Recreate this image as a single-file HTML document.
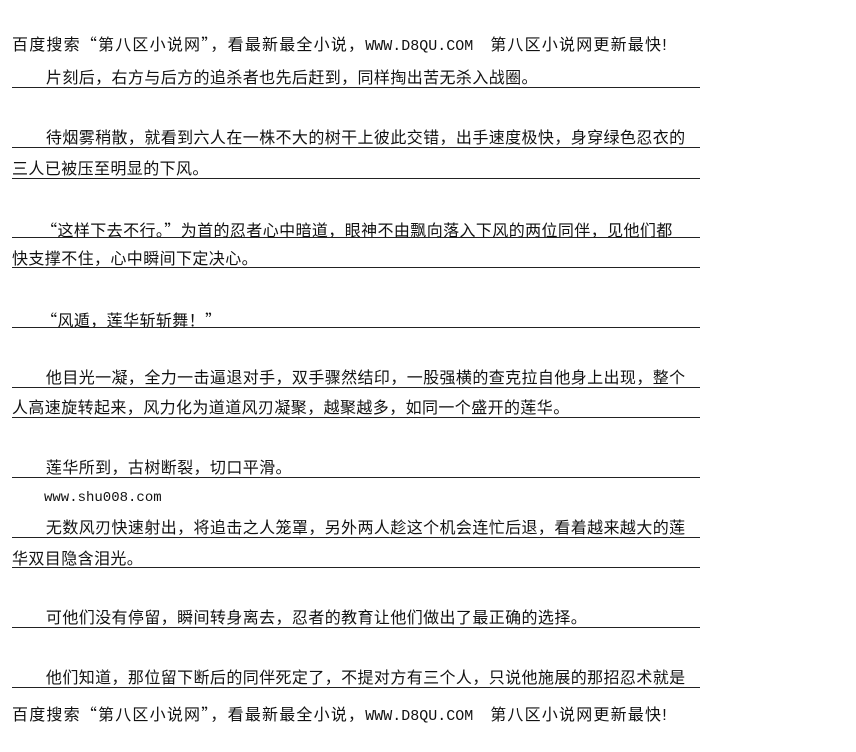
<!DOCTYPE html>
<html><head><meta charset="utf-8"><style>
body{margin:0;width:856px;height:752px;background:#fff;position:relative;overflow:hidden;font-family:"Liberation Sans","Noto Sans CJK SC",sans-serif;color:#111}
.t{position:absolute;left:12px;font-size:16px;line-height:18px;white-space:nowrap;letter-spacing:0.4px}
.h{letter-spacing:1.2px}
.l{position:absolute;left:12px;width:688px;height:1px;background:#222}
.m{font-family:"Liberation Mono",monospace;font-size:14px;letter-spacing:0}
.h .m{font-size:15px}
.q{font-family:"Noto Sans CJK SC",sans-serif}
</style></head><body>
<div class="t h" style="top:34px">百度搜索<span class="q">“</span>第八区小说网<span class="q">”</span>，看最新最全小说，<span class="m">WWW.D8QU.COM</span>&nbsp;&nbsp;&nbsp;第八区小说网更新最快!</div>
<div class="t" style="top:70px">&nbsp;&nbsp;&nbsp;&nbsp;&nbsp;&nbsp;&nbsp;片刻后，右方与后方的追杀者也先后赶到，同样掏出苦无杀入战圈。</div><div class="l" style="top:87px"></div>
<div class="t" style="top:130px">&nbsp;&nbsp;&nbsp;&nbsp;&nbsp;&nbsp;&nbsp;待烟雾稍散，就看到六人在一株不大的树干上彼此交错，出手速度极快，身穿绿色忍衣的</div><div class="l" style="top:147px"></div>
<div class="t" style="top:161px">三人已被压至明显的下风。</div><div class="l" style="top:178px"></div>
<div class="t" style="top:220px">&nbsp;&nbsp;&nbsp;&nbsp;&nbsp;&nbsp;<span class="q">“</span>这样下去不行。<span class="q">”</span>为首的忍者心中暗道，眼神不由飘向落入下风的两位同伴，见他们都</div><div class="l" style="top:237px"></div>
<div class="t" style="top:251px">快支撑不住，心中瞬间下定决心。</div><div class="l" style="top:267px"></div>
<div class="t" style="top:310px">&nbsp;&nbsp;&nbsp;&nbsp;&nbsp;&nbsp;<span class="q">“</span>风遁，莲华斩斩舞！<span class="q">”</span></div><div class="l" style="top:327px"></div>
<div class="t" style="top:370px">&nbsp;&nbsp;&nbsp;&nbsp;&nbsp;&nbsp;&nbsp;他目光一凝，全力一击逼退对手，双手骤然结印，一股强横的查克拉自他身上出现，整个</div><div class="l" style="top:387px"></div>
<div class="t" style="top:400px">人高速旋转起来，风力化为道道风刃凝聚，越聚越多，如同一个盛开的莲华。</div><div class="l" style="top:417px"></div>
<div class="t" style="top:460px">&nbsp;&nbsp;&nbsp;&nbsp;&nbsp;&nbsp;&nbsp;莲华所到，古树断裂，切口平滑。</div><div class="l" style="top:477px"></div>
<div class="t m" style="top:489px;left:44px">www.shu008.com</div>
<div class="t" style="top:520px">&nbsp;&nbsp;&nbsp;&nbsp;&nbsp;&nbsp;&nbsp;无数风刃快速射出，将追击之人笼罩，另外两人趁这个机会连忙后退，看着越来越大的莲</div><div class="l" style="top:537px"></div>
<div class="t" style="top:551px">华双目隐含泪光。</div><div class="l" style="top:567px"></div>
<div class="t" style="top:610px">&nbsp;&nbsp;&nbsp;&nbsp;&nbsp;&nbsp;&nbsp;可他们没有停留，瞬间转身离去，忍者的教育让他们做出了最正确的选择。</div><div class="l" style="top:627px"></div>
<div class="t" style="top:670px">&nbsp;&nbsp;&nbsp;&nbsp;&nbsp;&nbsp;&nbsp;他们知道，那位留下断后的同伴死定了，不提对方有三个人，只说他施展的那招忍术就是</div><div class="l" style="top:687px"></div>
<div class="t h" style="top:704px">百度搜索<span class="q">“</span>第八区小说网<span class="q">”</span>，看最新最全小说，<span class="m">WWW.D8QU.COM</span>&nbsp;&nbsp;&nbsp;第八区小说网更新最快!</div>
</body></html>
